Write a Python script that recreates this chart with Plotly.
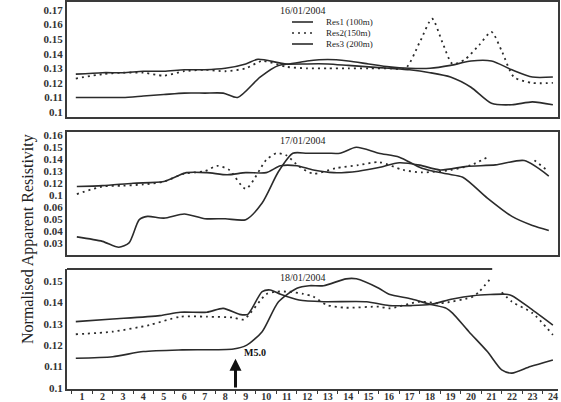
import plotly.graph_objects as go

# ---------------- data ----------------
hours = list(range(1, 25))

# Panel 1 : 16/01/2004
p1_res1_x = [0.7, 2, 3, 4, 5, 6, 7, 8, 9, 9.6, 11, 12, 13, 14, 15, 16, 17, 18, 19, 20, 21, 22, 23, 24]
p1_res1_y = [0.126, 0.127, 0.127, 0.128, 0.128, 0.129, 0.129, 0.130, 0.133, 0.1362, 0.133, 0.135, 0.136, 0.135,
             0.133, 0.131, 0.130, 0.130, 0.132, 0.135, 0.135, 0.129, 0.124, 0.124]
p1_res2_x = [0.7, 2, 3, 4, 5, 6, 7, 8, 9, 9.8, 11, 12, 13, 14, 15, 16, 16.8, 17.5, 18.1, 18.6, 19.1, 19.7,
             20.4, 21.0, 21.5, 22.1, 23, 24]
p1_res2_y = [0.123, 0.126, 0.127, 0.127, 0.125, 0.128, 0.129, 0.128, 0.130, 0.135, 0.131, 0.130, 0.130, 0.130,
             0.130, 0.130, 0.130, 0.148, 0.164, 0.148, 0.133, 0.136, 0.146, 0.155, 0.142, 0.124, 0.120, 0.120]
p1_res3_x = [0.7, 2, 3, 4, 5, 6, 7, 7.9, 8.6, 9.7, 10.6, 12, 13, 14, 15, 16, 17, 18, 19, 20, 21, 22, 23, 24]
p1_res3_y = [0.110, 0.110, 0.110, 0.111, 0.112, 0.113, 0.113, 0.113, 0.110, 0.124, 0.132, 0.133, 0.133, 0.132,
             0.131, 0.130, 0.129, 0.127, 0.124, 0.117, 0.106, 0.105, 0.107, 0.105]

# Panel 2 : 17/01/2004
p2_res1_x = [0.75, 2, 3.5, 5, 6.1, 7.1, 8.1, 9, 10, 10.7, 11.5, 12.3, 13.3, 14.5, 15.5, 16.5, 17.5, 18.5,
             19.8, 21.2, 22.6, 23.8]
p2_res1_y = [0.1173, 0.118, 0.120, 0.1214, 0.1288, 0.1288, 0.127, 0.1288, 0.1288, 0.1345, 0.1345, 0.131,
             0.1288, 0.130, 0.133, 0.137, 0.135, 0.131, 0.134, 0.1352, 0.1388, 0.126]
p2_res2_x = [0.75, 2, 3, 4, 5, 6, 7, 7.6, 8.2, 9, 10, 10.5, 11, 11.6, 12.3, 13.4, 14.5, 15.5, 16.7, 17.6,
             19, 20, 20.8, 21.5, 23.1, 23.7]
p2_res2_y = [0.111, 0.1173, 0.118, 0.119, 0.1214, 0.128, 0.130, 0.1344, 0.131, 0.1154, 0.1393, 0.1449, 0.143,
             0.134, 0.128, 0.1325, 0.135, 0.1375, 0.131, 0.129, 0.131, 0.135, 0.1416, None, 0.139, 0.131]
p2_res3_x = [0.75, 2, 2.8, 3.3, 3.8, 4.2, 5, 6, 7, 8, 9, 9.8, 10.6, 11.3, 12, 13, 13.6, 14.4, 15.5, 16.5,
             17.6, 18.8, 19.6, 20.8, 22, 23, 23.8]
p2_res3_y = [0.0755, 0.0718, 0.0669, 0.0705, 0.0898, 0.0925, 0.0911, 0.0945, 0.0906, 0.0906, 0.0898, 0.1036,
             0.1297, 0.1449, 0.1449, 0.1449, 0.1449, 0.1498, 0.1449, 0.1416, 0.1325, 0.1278, 0.125, 0.1077,
             0.0925, 0.085, 0.0809]

# Panel 3 : 18/01/2004
p3_res1_x = [0.7, 2.5, 4.8, 5.8, 7.1, 7.9, 8.7, 9.1, 9.8, 10.2, 10.7, 11.6, 12.8, 14.9, 16, 17.1, 18, 19.1,
             20.1, 21.7, 22, 22.9, 24]
p3_res1_y = [0.131, 0.1322, 0.1338, 0.1354, 0.1354, 0.1372, 0.1344, 0.1344, 0.145, 0.1458, 0.1438, 0.1411,
             0.1403, 0.1403, 0.1385, 0.1385, 0.139, 0.1416, 0.1431, 0.1438, 0.1431, 0.1372, 0.1294]
p3_res2_x = [0.7, 2.5, 4.3, 5.8, 7.1, 8.4, 8.9, 10, 10.5, 11.1, 11.8, 12.3, 12.95, 13.9, 15.5, 16, 17.5,
             18.5, 20.1, 20.4, 20.9, 21.2, 21.5, 22, 23, 24]
p3_res2_y = [0.1251, 0.1263, 0.1294, 0.1333, 0.1333, 0.1329, 0.132, 0.1438, 0.145, 0.145, 0.144, 0.1427,
             0.1388, 0.1375, 0.138, 0.1372, 0.1403, 0.1396, 0.1427, 0.145, 0.1505, None, 0.1447, 0.1403,
             0.135, 0.1248]
p3_res3_x = [0.7, 2.5, 4, 5.9, 8.4, 9.05, 9.8, 10.6, 11.5, 12.1, 12.8, 13.9, 14.4, 15.5, 16, 17.1, 18, 18.8,
             19.1, 19.9, 20.8, 21.5, 22, 22.9, 24]
p3_res3_y = [0.1139, 0.1146, 0.117, 0.1178, 0.1182, 0.120, 0.1263, 0.1403, 0.1466, 0.1478, 0.1478, 0.151,
             0.151, 0.1466, 0.1438, 0.1416, 0.1391, 0.1372, 0.135, 0.1263, 0.117, 0.1084, 0.1069, 0.11, 0.1131]

series_names = ["Res1 (100m)", "Res2(150m)", "Res3 (200m)"]
panel_titles = ["16/01/2004", "17/01/2004", "18/01/2004"]

p1_ticks = [0.17, 0.16, 0.15, 0.14, 0.13, 0.12, 0.11, 0.1]
p1_ticktext = ["0.17", "0.16", "0.15", "0.14", "0.13", "0.12", "0.11", "0.1"]
p2_ticks = [0.16, 0.15, 0.14, 0.13, 0.12, 0.11, 0.10, 0.09, 0.08, 0.07, 0.06]
p2_ticktext = ["0.16", "0.15", "0.14", "0.13", "0.12", "0.1", "0.06", "0.05", "0.04", "0.03", "0"]
p3_ticks = [0.15, 0.14, 0.13, 0.12, 0.11, 0.1]
p3_ticktext = ["0.15", "0.14", "0.13", "0.12", "0.11", "0.1"]

quake_hour = 8.5
quake_label = "M5.0"

# ---------------- figure ----------------
LINE = "#2b2b2b"
FRAME = "#3a3a3a"
SERIF = "Liberation Serif"

fig = go.Figure()

panels = [
    (p1_res1_x, p1_res1_y, p1_res2_x, p1_res2_y, p1_res3_x, p1_res3_y),
    (p2_res1_x, p2_res1_y, p2_res2_x, p2_res2_y, p2_res3_x, p2_res3_y),
    (p3_res1_x, p3_res1_y, p3_res2_x, p3_res2_y, p3_res3_x, p3_res3_y),
]
for i, (x1, y1, x2, y2, x3, y3) in enumerate(panels):
    xa = "x" if i == 0 else f"x{i+1}"
    ya = "y" if i == 0 else f"y{i+1}"
    for name, xs, ys, dash, w in [(series_names[0], x1, y1, "solid", 1.6),
                                  (series_names[1], x2, y2, "2px,4px", 1.8),
                                  (series_names[2], x3, y3, "solid", 1.6)]:
        fig.add_trace(go.Scatter(x=xs, y=ys, mode="lines", name=name, xaxis=xa, yaxis=ya,
                                 line=dict(color=LINE, width=w, dash=dash, shape="spline", smoothing=0.7),
                                 connectgaps=False, showlegend=False, hoverinfo="skip"))

W, H = 561, 402
xdom = [67 / W, 558 / W]
ydoms = [[1 - 117 / H, 1 - 2 / H], [1 - 255 / H, 1 - 132 / H], [1 - 389 / H, 1 - 269 / H]]
yranges = [[0.0966, 0.1755], [0.0605, 0.1625], [0.0995, 0.1556]]
xrange_ = [0.27, 24.25]
tickfont = dict(family=SERIF, size=11, color="#333", weight="bold")

layout = dict(width=W, height=H, margin=dict(l=0, r=0, t=0, b=0),
              paper_bgcolor="white", plot_bgcolor="white", showlegend=False)

for i in range(3):
    xk = "xaxis" if i == 0 else f"xaxis{i+1}"
    yk = "yaxis" if i == 0 else f"yaxis{i+1}"
    xa_anchor = "y" if i == 0 else f"y{i+1}"
    ya_anchor = "x" if i == 0 else f"x{i+1}"
    last = (i == 2)
    layout[xk] = dict(domain=xdom, range=xrange_, anchor=xa_anchor, showgrid=False, zeroline=False,
                      showline=True, linecolor=FRAME, linewidth=2, mirror=(not last),
                      tickvals=hours if last else [], ticktext=[str(h) for h in hours] if last else [],
                      showticklabels=last, ticks="",
                      tickfont=dict(family=SERIF, size=10, color="#333", weight="bold"),
                      automargin=False, fixedrange=True, ticklabelstandoff=-3)
    if last:
        layout[xk]["minor"] = dict(ticks="outside", tick0=0.5, dtick=1, ticklen=3, tickcolor=FRAME,
                                   tickwidth=1, showgrid=False)
    tv, tt = [(p1_ticks, p1_ticktext), (p2_ticks, p2_ticktext), (p3_ticks, p3_ticktext)][i]
    layout[yk] = dict(domain=ydoms[i], range=yranges[i], anchor=ya_anchor, showgrid=False, zeroline=False,
                      showline=True, linecolor=FRAME, linewidth=2, mirror=(not last),
                      tickvals=tv, ticktext=tt, ticks="", tickfont=tickfont, automargin=False,
                      fixedrange=True)

fig.update_layout(**layout)

# partial top border of the third panel
fig.add_shape(type="line", xref="x3 domain", yref="y3 domain", x0=0, x1=0.866, y0=1, y1=1,
              line=dict(color=FRAME, width=2))

annotations = []
# panel titles
for i, t in enumerate(panel_titles):
    ya = "y" if i == 0 else f"y{i+1}"
    xa = "x" if i == 0 else f"x{i+1}"
    annotations.append(dict(text=t, xref=f"{xa} domain", yref=f"{ya} domain", x=0.43, y=0.99,
                            xanchor="left", yanchor="top", showarrow=False,
                            font=dict(family=SERIF, size=10, color="#222")))

# legend (manual, inside panel 1)
leg_y = [22, 33, 44]
leg_dash = ["solid", "2px,4px", "solid"]
for name, yy, d in zip(series_names, leg_y, leg_dash):
    fig.add_shape(type="line", xref="paper", yref="paper", x0=292 / W, x1=313 / W,
                  y0=1 - yy / H, y1=1 - yy / H, line=dict(color=LINE, width=1.6, dash=d))
    annotations.append(dict(text=name, xref="paper", yref="paper", x=324 / W, y=1 - yy / H,
                            xanchor="left", yanchor="middle", showarrow=False,
                            font=dict(family=SERIF, size=9, color="#222")))

# y axis title
annotations.append(dict(text="Normalised Apparent Resistivity", xref="paper", yref="paper",
                        x=17 / W, y=1 - 239 / H, textangle=-90, showarrow=False,
                        font=dict(family=SERIF, size=16, color="#222")))

# earthquake arrow
annotations.append(dict(x=quake_hour, y=0.1137, ax=quake_hour, ay=0.0995, xref="x3", yref="y3",
                        axref="x3", ayref="y3", text="", showarrow=True, arrowhead=2, arrowsize=0.8,
                        arrowwidth=3, arrowcolor="#111"))
annotations.append(dict(x=quake_hour + 0.3, y=0.1167, xref="x3", yref="y3", text=quake_label,
                        xanchor="left", yanchor="middle", showarrow=False,
                        font=dict(family=SERIF, size=10, color="#111", weight="bold")))

fig.update_layout(annotations=annotations)

fig.write_html("out.html", config={"displayModeBar": False},
               post_script="document.body.style.margin='0px';document.body.style.overflow='hidden';")
